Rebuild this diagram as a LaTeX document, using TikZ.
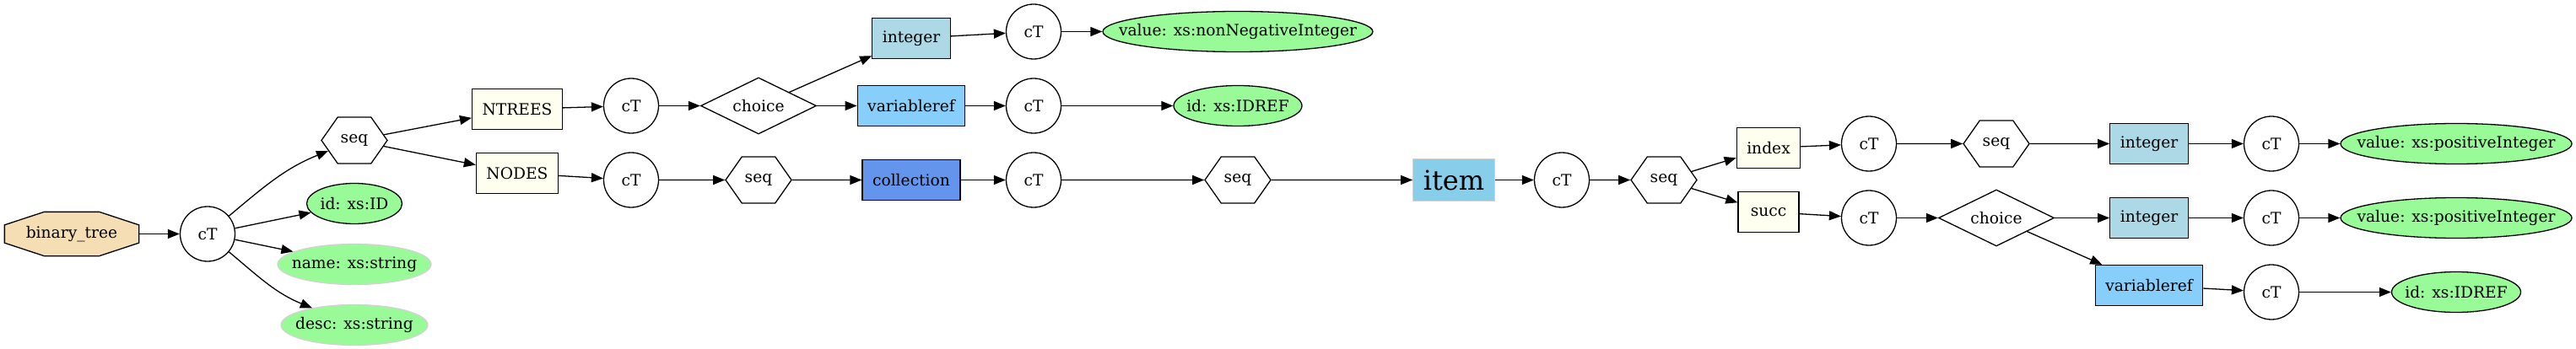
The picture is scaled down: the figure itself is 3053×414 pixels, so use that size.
\documentclass[tikz,border=0pt]{standalone}
\usepackage{xcolor}
\usepackage{fontspec}
\setmainfont{DejaVu Serif}
\usepackage{tikz}
\usetikzlibrary{shapes.geometric, shapes.symbols, arrows.meta, positioning, backgrounds}

\definecolor{wheat}{HTML}{F5DEB3}
\definecolor{palegreen}{HTML}{98FB98}
\definecolor{ivory}{HTML}{FFFFF0}
\definecolor{lightblue}{HTML}{ADD8E6}
\definecolor{lightskyblue}{HTML}{87CEFA}
\definecolor{cornflowerblue}{HTML}{6495ED}
\definecolor{skyblue}{HTML}{87CEEB}
\definecolor{silver}{HTML}{D3D3D3}

\begin{document}
\begin{tikzpicture}[
    x=1pt, y=1pt,
    on grid,
    font=\fontsize{18.67}{22}\selectfont,
    every node/.style={line width=1.3pt},
    root/.style={rectangle, minimum width=158pt, minimum height=51pt, inner sep=0pt},
    ctype/.style={circle, draw, minimum size=65pt, inner sep=0pt},
    seqhex/.style={signal, signal to=east and west, signal pointer angle=110, draw, minimum width=78pt, minimum height=55pt, inner sep=0pt},
    choicebox/.style={diamond, aspect=2.04, draw, minimum width=137pt, minimum height=67pt, inner sep=0pt},
    elem/.style={rectangle, draw, fill=ivory, minimum width=72pt, minimum height=48pt, inner xsep=12pt, inner ysep=3pt},
    attr/.style={ellipse, draw, fill=palegreen, minimum height=48pt, inner sep=0pt, execute at begin node={\hbox to 0pt\bgroup\hss}, execute at end node={\hss\egroup}},
    arrow/.style={->, >={Triangle[length=14pt, width=11pt]}, line width=1.3pt}
]
\useasboundingbox (0,0) rectangle (3053,-414);

% Root element
\node[root] (bt) at (85,-277.5) {binary\_tree};
\node[ctype, right=161pt of bt] (ct0) {cT};

% octagon round binary_tree
\begin{scope}[on background layer]
\filldraw[fill=wheat, line width=1.3pt] ([xshift=47pt]bt.north west) -- ([xshift=-47pt]bt.north east)
  -- ([yshift=-15.5pt]bt.north east) -- ([yshift=15.5pt]bt.south east)
  -- ([xshift=-47pt]bt.south east) -- ([xshift=47pt]bt.south west)
  -- ([yshift=15.5pt]bt.south west) -- ([yshift=-15.5pt]bt.north west) -- cycle;
\end{scope}

% Content of binary_tree
\node[seqhex, above right=111pt and 174pt of ct0] (seq0) {seq};
\node[attr, minimum width=113pt, above right=36pt and 174pt of ct0] (id0) {id: xs:ID};
\node[attr, draw=silver, minimum width=182pt, below right=36pt and 174pt of ct0] (name0) {name: xs:string};
\node[attr, draw=silver, minimum width=174pt, below right=108pt and 174pt of ct0] (desc0) {desc: xs:string};

% NTREES branch
\node[elem, above right=37pt and 193pt of seq0] (ntrees) {NTREES};
\node[ctype, above right=4pt and 135pt of ntrees] (ct1) {cT};
\node[choicebox, right=151pt of ct1] (choice0) {choice};
\node[elem, fill=lightblue, above right=80pt and 181pt of choice0] (int0) {integer};
\node[elem, fill=lightskyblue, right=181pt of choice0] (vref0) {variableref};
\node[ctype, above right=8pt and 145pt of int0] (ct3) {cT};
\node[ctype, right=145pt of vref0] (ct4) {cT};
\node[attr, minimum width=320pt, right=242pt of ct3] (val0) {value: xs:nonNegativeInteger};
\node[attr, minimum width=152pt, right=242pt of ct4] (idref0) {id: xs:IDREF};

% NODES branch
\node[elem, below right=39pt and 193pt of seq0] (nodes) {NODES};
\node[ctype, below right=8pt and 135pt of nodes] (ct2) {cT};
\node[seqhex, right=151pt of ct2] (seq1) {seq};
\node[elem, fill=cornflowerblue, right=181pt of seq1] (coll) {collection};
\node[ctype, right=145pt of coll] (ct5) {cT};
\node[seqhex, right=242pt of ct5] (seq2) {seq};

% item
\node[elem, fill=skyblue, draw=silver, minimum height=50pt, font=\fontsize{32}{38}\selectfont, right=256pt of seq2] (item) {item};
\node[ctype, right=128pt of item] (ct6) {cT};
\node[seqhex, right=121pt of ct6] (seq3) {seq};

% index branch
\node[elem, above right=38pt and 124pt of seq3] (index) {index};
\node[ctype, above right=5pt and 119pt of index] (ct7) {cT};
\node[seqhex, right=151pt of ct7] (seq4) {seq};
\node[elem, fill=lightblue, right=181pt of seq4] (int1) {integer};
\node[ctype, right=145pt of int1] (ct9) {cT};
\node[attr, minimum width=274pt, right=219pt of ct9] (val1) {value: xs:positiveInteger};

% succ branch
\node[elem, below right=38pt and 124pt of seq3] (succ) {succ};
\node[ctype, below right=7pt and 119pt of succ] (ct8) {cT};
\node[choicebox, right=151pt of ct8] (choice1) {choice};
\node[elem, fill=lightblue, right=181pt of choice1] (int2) {integer};
\node[ctype, right=145pt of int2] (ct10) {cT};
\node[attr, minimum width=274pt, right=219pt of ct10] (val2) {value: xs:positiveInteger};
\node[elem, fill=lightskyblue, below right=80pt and 181pt of choice1] (vref1) {variableref};
\node[ctype, below right=8pt and 145pt of vref1] (ct11) {cT};
\node[attr, minimum width=153pt, right=219pt of ct11] (idref1) {id: xs:IDREF};

% Arrows
\draw[arrow] (bt) -- (ct0);
\draw[arrow] (ct0) to[out=40, in=202] (seq0);
\draw[arrow] (ct0) -- (id0);
\draw[arrow] (ct0) -- (name0);
\draw[arrow] (ct0) to[out=-40, in=158] (desc0);
\draw[arrow] (seq0) -- (ntrees);
\draw[arrow] (seq0) -- (nodes);
\draw[arrow] (ntrees) -- (ct1);
\draw[arrow] (ct1) -- (choice0);
\draw[arrow] (choice0) -- (int0);
\draw[arrow] (choice0) -- (vref0);
\draw[arrow] (int0) -- (ct3);
\draw[arrow] (ct3) -- (val0);
\draw[arrow] (vref0) -- (ct4);
\draw[arrow] (ct4) -- (idref0);
\draw[arrow] (nodes) -- (ct2);
\draw[arrow] (ct2) -- (seq1);
\draw[arrow] (seq1) -- (coll);
\draw[arrow] (coll) -- (ct5);
\draw[arrow] (ct5) -- (seq2);
\draw[arrow] (seq2) -- (item);
\draw[arrow] (item) -- (ct6);
\draw[arrow] (ct6) -- (seq3);
\draw[arrow] (seq3) -- (index);
\draw[arrow] (seq3) -- (succ);
\draw[arrow] (index) -- (ct7);
\draw[arrow] (ct7) -- (seq4);
\draw[arrow] (seq4) -- (int1);
\draw[arrow] (int1) -- (ct9);
\draw[arrow] (ct9) -- (val1);
\draw[arrow] (succ) -- (ct8);
\draw[arrow] (ct8) -- (choice1);
\draw[arrow] (choice1) -- (int2);
\draw[arrow] (choice1) -- (vref1);
\draw[arrow] (int2) -- (ct10);
\draw[arrow] (ct10) -- (val2);
\draw[arrow] (vref1) -- (ct11);
\draw[arrow] (ct11) -- (idref1);

\end{tikzpicture}
\end{document}
